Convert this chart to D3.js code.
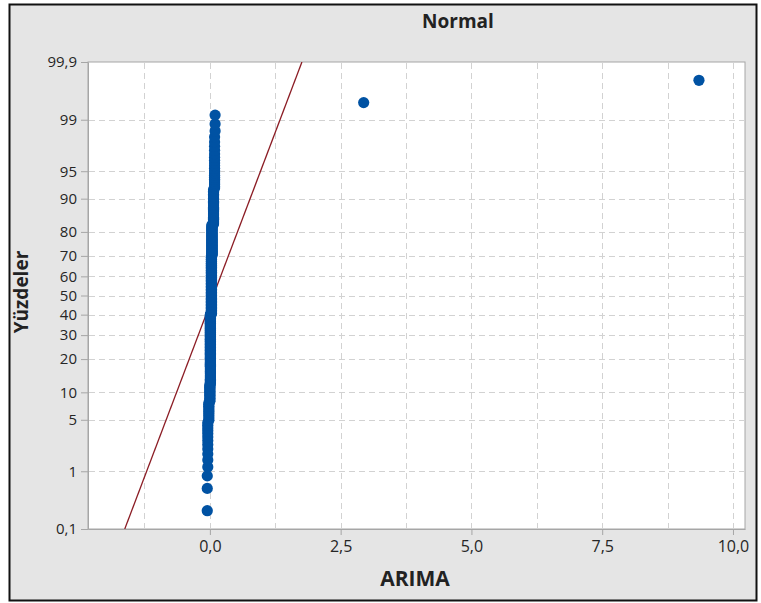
<!DOCTYPE html>
<meta charset="utf-8">
<script src="https://d3js.org/d3.v7.min.js"></script>
<style>
  body { margin: 0; background: #fff; }
  text { font-family: "Open Sans", "Noto Sans", sans-serif; }
</style>
<div id="chart"></div>
<script>

// sorted ARIMA values, kept as runs: each value and how often it occurs
const runValues = [-0.05, -0.04, -0.02, 0.00, 0.01, 0.03, 0.04, 0.07, 0.09, 0.10, 2.94, 9.35];
const runCounts = [3, 12, 10, 13, 90, 95, 40, 30, 20, 3, 1, 1];

// tick labels
const pctTicks = [0.1, 1, 5, 10, 20, 30, 40, 50, 60, 70, 80, 90, 95, 99, 99.9];
const xTicks = [0, 2.5, 5, 7.5, 10];
const xGrid = [-1.25, 0, 1.25, 2.5, 3.75, 5, 6.25, 7.5, 8.75, 10];
const xDomain = [-2.33, 10.23];

const W = 761, H = 603;
const plot = {left: 88, top: 62, right: 745, bottom: 529};

// expand runs into the sorted sample
const values = [];
runValues.forEach((v, i) => { for (let k = 0; k < runCounts[i]; k++) values.push(v); });
const n = values.length;

// inverse of the standard normal cdf (Acklam)
function probit(p) {
  const a = [-3.969683028665376e+01, 2.209460984245205e+02, -2.759285104469687e+02, 1.383577518672690e+02, -3.066479806614716e+01, 2.506628277459239e+00];
  const b = [-5.447609879822406e+01, 1.615858368580409e+02, -1.556989798598866e+02, 6.680131188771972e+01, -1.328068155288572e+01];
  const c = [-7.784894002430293e-03, -3.223964580411365e-01, -2.400758277161838e+00, -2.549732539343734e+00, 4.374664141464968e+00, 2.938163982698783e+00];
  const d = [7.784695709041462e-03, 3.224671290700398e-01, 2.445134137142996e+00, 3.754408661907416e+00];
  const pl = 0.02425;
  let q, r;
  if (p < pl) {
    q = Math.sqrt(-2 * Math.log(p));
    return (((((c[0]*q+c[1])*q+c[2])*q+c[3])*q+c[4])*q+c[5]) / ((((d[0]*q+d[1])*q+d[2])*q+d[3])*q+1);
  } else if (p <= 1 - pl) {
    q = p - 0.5; r = q * q;
    return (((((a[0]*r+a[1])*r+a[2])*r+a[3])*r+a[4])*r+a[5])*q / (((((b[0]*r+b[1])*r+b[2])*r+b[3])*r+b[4])*r+1);
  }
  q = Math.sqrt(-2 * Math.log(1 - p));
  return -(((((c[0]*q+c[1])*q+c[2])*q+c[3])*q+c[4])*q+c[5]) / ((((d[0]*q+d[1])*q+d[2])*q+d[3])*q+1);
}

const comma = s => s.replace(".", ",");
const fmtPct = p => comma(Number.isInteger(p) ? String(p) : d3.format(".1f")(p));
const fmtX = v => comma(d3.format(".1f")(v));

const svg = d3.select("#chart").append("svg")
  .attr("width", W).attr("height", H);

// outer panel
svg.append("rect")
  .attr("x", 9.5).attr("y", 4.5).attr("width", 747).attr("height", 596)
  .attr("fill", "#e5e5e5").attr("stroke", "#111").attr("stroke-width", 2);

const x = d3.scaleLinear().domain(xDomain).range([plot.left, plot.right]);
const y = d3.scaleLinear().domain([probit(0.001), probit(0.999)]).range([plot.bottom, plot.top]);

// plot area
svg.append("rect")
  .attr("x", plot.left).attr("y", plot.top)
  .attr("width", plot.right - plot.left).attr("height", plot.bottom - plot.top)
  .attr("fill", "#fff").attr("stroke", "#a6a6a6");

svg.append("clipPath").attr("id", "clip")
  .append("rect")
  .attr("x", plot.left).attr("y", plot.top)
  .attr("width", plot.right - plot.left).attr("height", plot.bottom - plot.top);

// grid
const grid = svg.append("g")
  .attr("stroke", "#d2d2d2").attr("stroke-dasharray", "6,4").attr("stroke-width", 1);
grid.selectAll("line.v").data(xGrid).join("line")
  .attr("class", "v")
  .attr("x1", d => Math.round(x(d)) + 0.5).attr("x2", d => Math.round(x(d)) + 0.5)
  .attr("y1", plot.top + 1).attr("y2", plot.bottom);
grid.selectAll("line.h").data(pctTicks.slice(1, -1)).join("line")
  .attr("class", "h")
  .attr("y1", d => Math.round(y(probit(d / 100))) + 0.5).attr("y2", d => Math.round(y(probit(d / 100))) + 0.5)
  .attr("x1", plot.left + 1).attr("x2", plot.right - 1);

// axes
const yAxis = d3.axisLeft(y)
  .tickValues(pctTicks.map(p => probit(p / 100)))
  .tickFormat((d, i) => fmtPct(pctTicks[i]))
  .tickSize(7).tickSizeOuter(0).tickPadding(4);
const gy = svg.append("g").attr("transform", `translate(${plot.left},0)`).call(yAxis);

const xAxis = d3.axisBottom(x)
  .tickValues(xTicks).tickFormat(fmtX)
  .tickSize(6).tickSizeOuter(0).tickPadding(6);
const gx = svg.append("g").attr("transform", `translate(0,${plot.bottom})`).call(xAxis);

[gx, gy].forEach(g => {
  g.select(".domain").attr("stroke", "#a6a6a6");
  g.selectAll(".tick line").attr("stroke", "#a6a6a6");
  g.selectAll(".tick text").attr("fill", "#262626").style("font-family", '"Open Sans", sans-serif');
});
gy.selectAll(".tick text").style("font-size", "15px");
gx.selectAll(".tick text").style("font-size", "16px");

// fitted normal line
const mu = d3.mean(values), sd = d3.deviation(values);
const zEnds = [probit(0.001), probit(0.999)];
svg.append("path")
  .attr("clip-path", "url(#clip)")
  .datum(zEnds)
  .attr("fill", "none").attr("stroke", "#8b1c24").attr("stroke-width", 1.3)
  .attr("d", d3.line().x(z => x(mu + sd * z)).y(z => y(z)));

// points, plotted at median ranks
svg.append("g")
  .attr("clip-path", "url(#clip)")
  .selectAll("circle").data(values).join("circle")
  .attr("cx", d => x(d))
  .attr("cy", (d, i) => y(probit((i + 1 - 0.3) / (n + 0.4))))
  .attr("r", 5.6)
  .attr("fill", "#0052a3");

// titles
svg.append("text")
  .attr("x", 458).attr("y", 28).attr("text-anchor", "middle")
  .attr("font-size", 19).attr("font-weight", "bold").attr("fill", "#222")
  .text("Normal");

svg.append("text")
  .attr("x", 415).attr("y", 586).attr("text-anchor", "middle")
  .attr("font-size", 21).attr("font-weight", "bold").attr("fill", "#222")
  .text("ARIMA");

svg.append("text")
  .attr("transform", "translate(28,292) rotate(-90)").attr("text-anchor", "middle")
  .attr("font-size", 19).attr("font-weight", "bold").attr("fill", "#222")
  .text("Yüzdeler");

</script>
